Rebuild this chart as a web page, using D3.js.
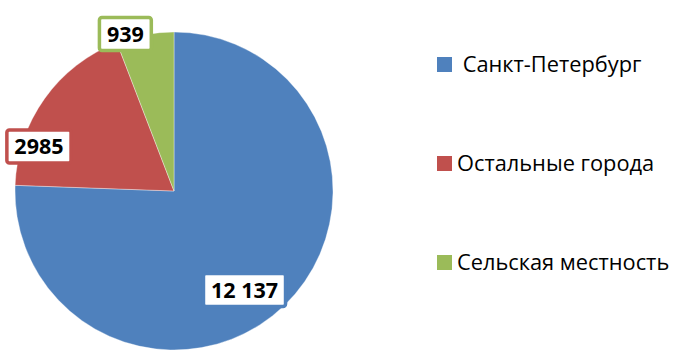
<!DOCTYPE html>
<html>
<head>
<meta charset="utf-8">
<script src="https://cdn.jsdelivr.net/npm/d3@7"></script>
<style>
  html, body { margin: 0; padding: 0; background: #fff; }
  svg { display: block; }
  text { font-family: "Open Sans", "Noto Sans", sans-serif; }
</style>
</head>
<body>
<svg id="chart" width="674" height="351"></svg>
<script>
// Population by settlement type
const categories = [" Санкт-Петербург", "Остальные города", "Сельская местность"];
const values = [12137, 2985, 939];
const valueLabels = ["12 137", "2985", "939"];
const colors = ["#4F81BD", "#C0504D", "#9BBB59"];

// Label placement relative to each slice: angle shift (deg) and radius factor
const labelShift = [8.5, -17.3, -6.7];
const labelRadius = [0.764, 0.894, 1.033];

const width = 674, height = 351;
const cx = 174, cy = 191, R = 159;

const svg = d3.select("#chart");
const g = svg.append("g").attr("transform", `translate(${cx},${cy})`);

const pie = d3.pie().sort(null).value(d => d);
const arcs = pie(values);
const arc = d3.arc().innerRadius(0).outerRadius(R);

g.selectAll("path.slice")
  .data(arcs)
  .join("path")
  .attr("class", "slice")
  .attr("d", arc)
  .attr("fill", (d, i) => colors[i])
  .attr("stroke", "rgba(255,255,255,0.6)")
  .attr("stroke-width", 0.6);

// Data labels: white boxes outlined in the slice colour
const labels = g.selectAll("g.lbl")
  .data(arcs)
  .join("g")
  .attr("class", "lbl")
  .attr("transform", (d, i) => {
    const a = (d.startAngle + d.endAngle) / 2 + labelShift[i] * Math.PI / 180;
    const r = R * labelRadius[i];
    return `translate(${r * Math.sin(a)},${-r * Math.cos(a)})`;
  });

labels.append("text")
  .attr("text-anchor", "middle")
  .attr("dy", "0.36em")
  .attr("font-size", 21.5)
  .attr("font-weight", 700)
  .attr("fill", "#000")
  .text((d, i) => valueLabels[i]);

labels.each(function(d, i) {
  const sel = d3.select(this);
  const bb = sel.select("text").node().getBBox();
  const padX = 7.5, boxH = 33;
  sel.insert("rect", "text")
    .attr("x", bb.x - padX)
    .attr("y", -boxH / 2)
    .attr("width", bb.width + padX * 2)
    .attr("height", boxH)
    .attr("rx", 2.5)
    .attr("fill", "#fff")
    .attr("stroke", colors[i])
    .attr("stroke-width", 3.5);
});

// Legend
const legendY = d3.scalePoint().domain(categories).range([64.5, 262.5]);
const legend = svg.append("g");
const items = legend.selectAll("g")
  .data(categories)
  .join("g")
  .attr("transform", d => `translate(437,${legendY(d)})`);

items.append("rect")
  .attr("x", 0).attr("y", -7.5)
  .attr("width", 15).attr("height", 15)
  .attr("fill", (d, i) => colors[i]);

items.append("text")
  .attr("x", 20)
  .attr("dy", "0.36em")
  .attr("font-size", 21.8)
  .attr("fill", "#000")
  .style("white-space", "pre")
  .text(d => d);
</script>
</body>
</html>
